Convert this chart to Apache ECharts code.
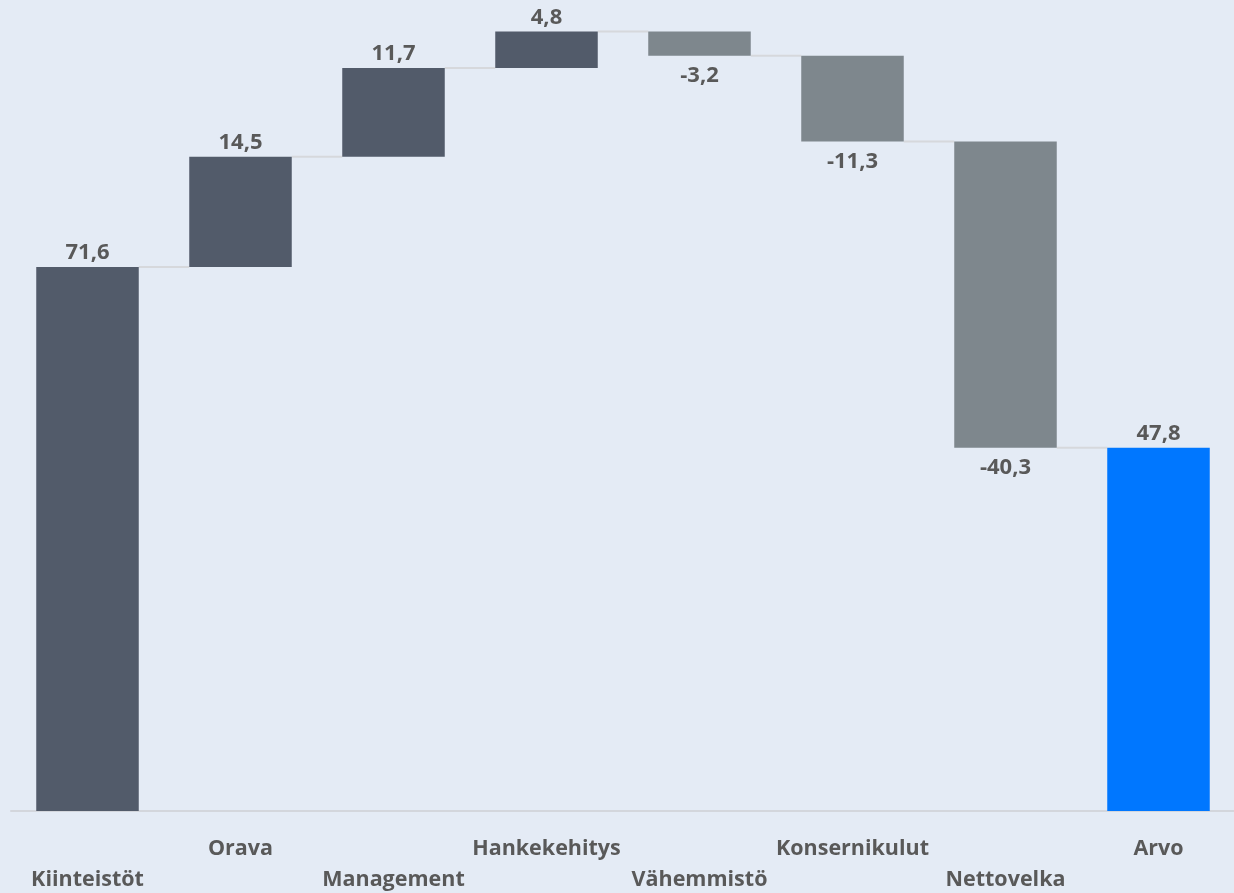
<!DOCTYPE html>
<html><head><meta charset="utf-8">
<script src="https://cdn.jsdelivr.net/npm/echarts@6/dist/echarts.min.js"></script>
<style>html,body{margin:0;padding:0;background:#E4EBF5;}#c{width:1234px;height:893px;}</style>
</head><body><div id="c"></div>
<script>
const categories = ['Kiinteistöt','Orava','Management','Hankekehitys','Vähemmistö','Konsernikulut','Nettovelka','Arvo'];
const deltas = [71.6, 14.5, 11.7, 4.8, -3.2, -11.3, -40.3, 47.8];
const isTotal = [false,false,false,false,false,false,false,true];

const COL_POS = '#525B6A', COL_NEG = '#7E878D', COL_TOT = '#0077FF';
const base = [], vis = [], ends = [];
let cum = 0;
deltas.forEach((d,i)=>{
  if (isTotal[i]) { base.push(0); vis.push(d); cum = d; }
  else if (d >= 0) { base.push(cum); vis.push(d); cum += d; }
  else { base.push(cum + d); vis.push(-d); cum += d; }
  ends.push(cum);
});
const fmt = v => v.toFixed(1).replace('.', ',');
const chart = echarts.init(document.getElementById('c'));
const FONT = '"Open Sans", sans-serif';
chart.setOption({
  backgroundColor: '#E4EBF5',
  animation: false,
  grid: {left: 11, right: -1, top: 20.8, bottom: 82, containLabel: false, outerBoundsMode: 'none'},
  xAxis: {
    type: 'category', data: categories,
    axisLine: {lineStyle: {color: '#D3D6DC', width: 2}},
    axisTick: {show: false},
    axisLabel: {
      interval: 0, margin: 22, color: '#595959', fontFamily: FONT, fontWeight: 'bold', fontSize: 21.5, lineHeight: 31,
      formatter: (v, i) => (i % 2 === 0 ? '\n' + v : v)
    }
  },
  yAxis: {type: 'value', min: 0, max: 104, show: false, splitLine: {show: false}},
  series: [
    {type: 'bar', stack: 'w', data: base, itemStyle: {color: 'transparent'}, barWidth: '67%', silent: true},
    {type: 'bar', stack: 'w', barWidth: '67%',
      data: vis.map((v,i)=>({
        value: v,
        itemStyle: {color: isTotal[i] ? COL_TOT : (deltas[i] >= 0 ? COL_POS : COL_NEG)},
        label: deltas[i] >= 0 ? {position: 'top', distance: 3} : {position: 'bottom', distance: 9}
      })),
      label: {show: true, color: '#595959', fontFamily: FONT, fontWeight: 'bold', fontSize: 22,
        formatter: p => fmt(deltas[p.dataIndex])}
    },
    {type: 'custom', data: ends.slice(0, ends.length - 1).map((v,i)=>[i, v]), z: 1,
      renderItem: (params, api) => {
        const i = api.value(0), v = api.value(1);
        const bw = api.size([1, 0])[0];
        const p = api.coord([i, v]);
        const half = bw * 0.67 / 2;
        return {type: 'line', shape: {x1: p[0] + half, y1: p[1], x2: p[0] + bw - half, y2: p[1]},
          style: {stroke: '#D6D8DC', lineWidth: 2}};
      }
    }
  ]
});
</script></body></html>
